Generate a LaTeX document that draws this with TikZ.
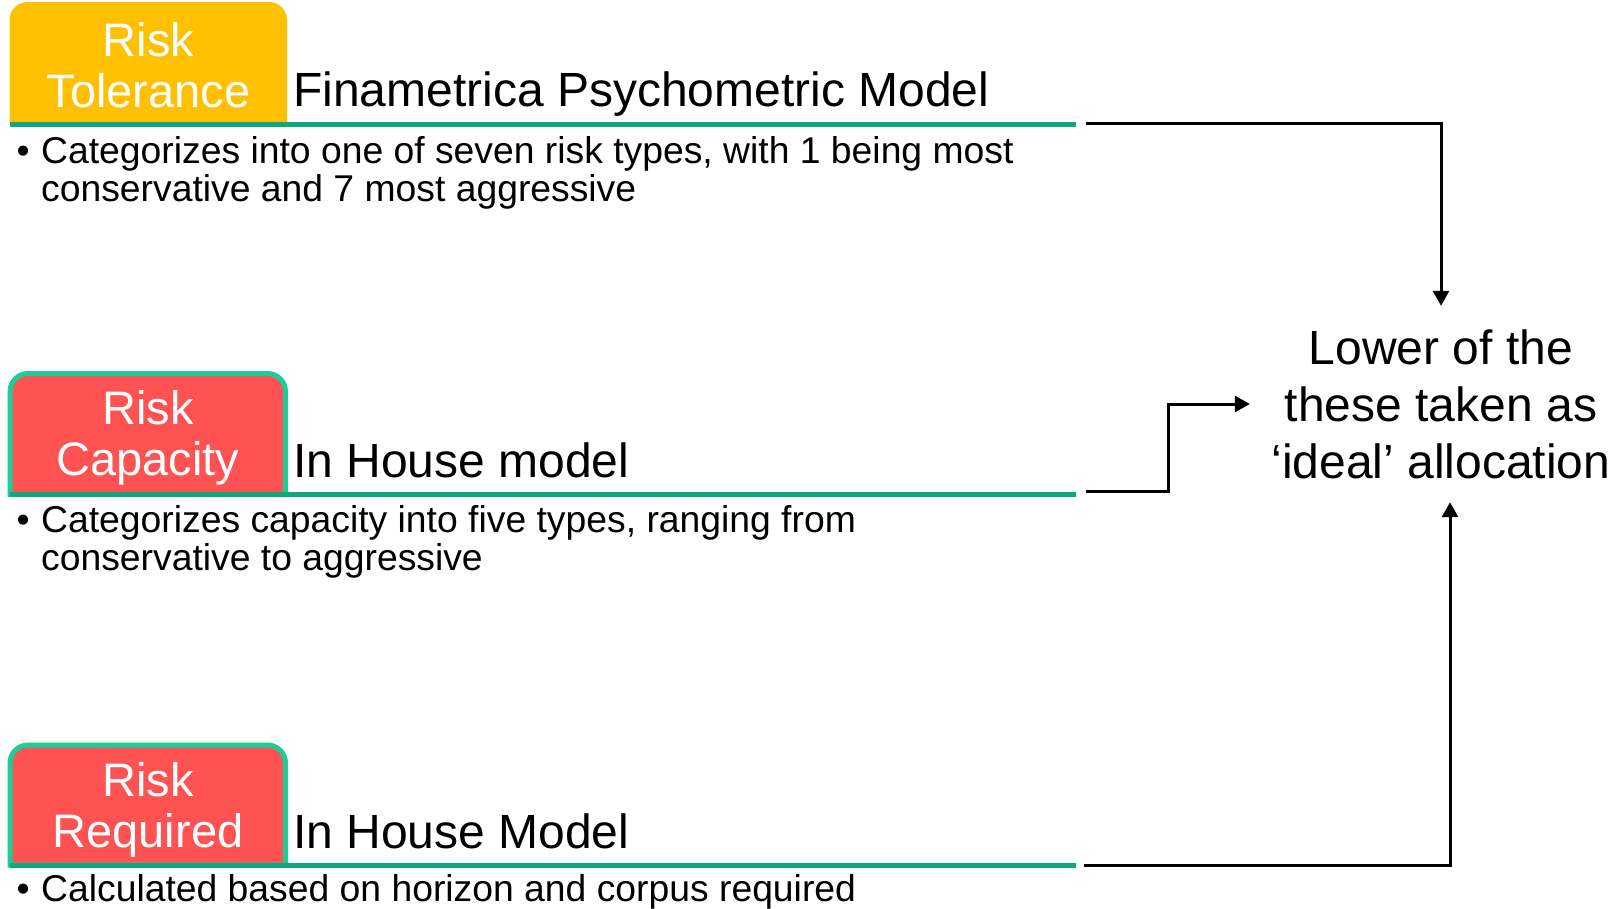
\documentclass[tikz,border=0pt]{standalone}
\usepackage{fontspec}
\setmainfont{Liberation Sans}
\usetikzlibrary{arrows.meta}

\definecolor{tabyellow}{RGB}{255,192,0}
\definecolor{tabred}{RGB}{255,82,82}
\definecolor{tabedge}{RGB}{30,204,150}
\definecolor{rulegreen}{RGB}{18,166,126}

\tikzset{
  tabtext/.style={text=white, font=\fontsize{47}{51}\selectfont, align=center, anchor=base, inner sep=0pt},
  heading/.style={font=\fontsize{48}{57}\selectfont, anchor=base west, inner sep=0pt},
  bullettext/.style={font=\fontsize{37.3}{38}\selectfont, anchor=base west, align=left, inner sep=0pt},
  rulebar/.style={rulegreen, line width=5pt},
  redtab/.style={fill=tabred, draw=tabedge, line width=5pt},
  link/.style={line width=3pt, -{Triangle[length=15pt,width=16pt]}},
}

\begin{document}
\begin{tikzpicture}[x=1pt,y=-1pt]
\useasboundingbox (0,0) rectangle (1621,908);

% ---------- Risk Tolerance ----------
\fill[tabyellow] (9.5,123) -- (9.5,20) arc[start angle=180,end angle=270,radius=18]
  -- (269,2) arc[start angle=270,end angle=360,radius=18] -- (287,123) -- cycle;
\node[tabtext] (tol) at (148.5,107) {Risk\\Tolerance};
\draw[rulebar] (9.5,124) -- (1076,124) coordinate (r1);
\node[heading] (h1) at (293,106) {Finametrica Psychometric Model};
\node[bullettext] (d1) at (16.5,163) {•};
\node[bullettext] (t1) at (41,201) {Categorizes into one of seven risk types, with 1 being most\\conservative and 7 most aggressive};

% ---------- Risk Capacity ----------
\path[redtab] (10,494.5) -- (10,391.5) arc[start angle=180,end angle=270,radius=18]
  -- (267.5,373.5) arc[start angle=270,end angle=360,radius=18] -- (285.5,494.5) -- cycle;
\node[tabtext] (cap) at (148,475) {Risk\\Capacity};
\draw[rulebar] (10,494.5) -- (1076,494.5) coordinate (r2);
\node[heading] (h2) at (293,477) {In House model};
\node[bullettext] (d2) at (16.5,532) {•};
\node[bullettext] (t2) at (41,570) {Categorizes capacity into five types, ranging from\\conservative to aggressive};

% ---------- Risk Required ----------
\path[redtab] (10,865) -- (10,763) arc[start angle=180,end angle=270,radius=18]
  -- (267.5,745) arc[start angle=270,end angle=360,radius=18] -- (285.5,865) -- cycle;
\node[tabtext] (req) at (148,847) {Risk\\Required};
\draw[rulebar] (10,865) -- (1076,865) coordinate (r3);
\node[heading] (h3) at (293,848) {In House Model};
\node[bullettext] (d3) at (16.5,901) {•};
\node[bullettext] (t3) at (41,901) {Calculated based on horizon and corpus required};

% ---------- outcome ----------
\node[font=\fontsize{48}{57}\selectfont, align=center, inner sep=0pt,
      minimum width=382pt, minimum height=196pt] (res) at (1441,404)
  {Lower of the\\these taken as\\‘ideal’ allocation};

\draw[link] ([xshift=10pt,yshift=1pt]r1) -| (res.north);
\draw[link] ([xshift=10pt,yshift=3.5pt]r2) -- ++(82,0) |- (res.west);
\draw[link] ([xshift=8pt]r3) -| ([xshift=9pt]res.south);
\end{tikzpicture}
\end{document}
